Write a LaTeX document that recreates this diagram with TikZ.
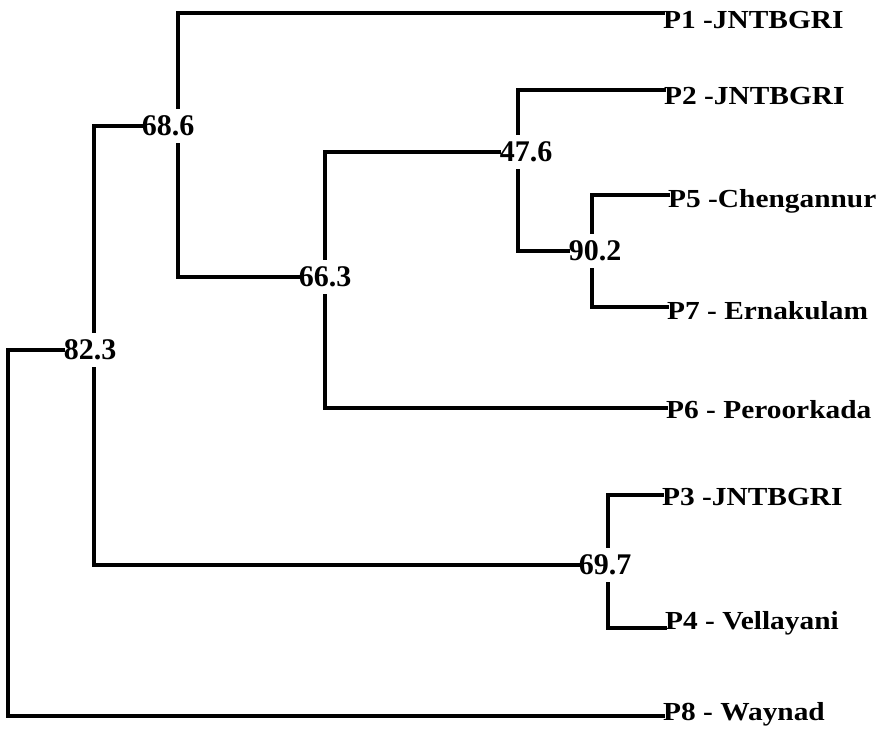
\documentclass[tikz,border=0pt]{standalone}
\usepackage{fontspec}
\setmainfont{Liberation Serif}
\tikzset{
  br/.style={line width=3.2pt, line join=miter, line cap=rect, black},
  num/.style={font=\fontsize{30}{30}\selectfont\bfseries, inner xsep=0pt, inner ysep=8pt},
  leaf/.style={anchor=base west, inner sep=0pt, font=\fontsize{26}{26}\selectfont\bfseries},
}
\newcommand{\lf}[1]{\scalebox{1.13}[1]{#1}}
\begin{document}
\begin{tikzpicture}[x=1pt,y=-1pt]
\useasboundingbox (0,0) rectangle (893,731);
% leaf line ends
\coordinate (e1) at (663,13);
\coordinate (e2) at (664,90);
\coordinate (e5) at (668,195);
\coordinate (e7) at (667,307);
\coordinate (e6) at (666,408);
\coordinate (e3) at (662,495);
\coordinate (e4) at (665,628);
\coordinate (e8) at (663,716);
% leaf labels
\node[leaf] (p1) at ([yshift=-15pt]e1) {\lf{P1 -JNTBGRI}};
\node[leaf] (p2) at ([yshift=-14pt]e2) {\lf{P2 -JNTBGRI}};
\node[leaf] (p5) at ([yshift=-12pt]e5) {\lf{P5 -Chengannur}};
\node[leaf] (p7) at ([yshift=-12pt]e7) {\lf{P7 - Ernakulam}};
\node[leaf] (p6) at ([yshift=-10pt]e6) {\lf{P6 - Peroorkada}};
\node[leaf] (p3) at ([yshift=-10pt]e3) {\lf{P3 -JNTBGRI}};
\node[leaf] (p4) at ([yshift=-1pt]e4) {\lf{P4 - Vellayani}};
\node[leaf] (p8) at ([yshift=-4pt]e8) {\lf{P8 - Waynad}};
% internal labels
\node[num] (n686) at (168,126) {68.6};
\node[num] (n663) at (325,277) {66.3};
\node[num] (n476) at (526,152) {47.6};
\node[num] (n902) at (595,251) {90.2};
\node[num] (n697) at (605,565) {69.7};
\node[num] (n823) at (90,350) {82.3};
% junction x positions
\coordinate (j686) at (178,126);
\coordinate (j663) at (325,277);
\coordinate (j476) at (518,152);
\coordinate (j902) at (592,251);
\coordinate (j697) at (608,565);
\coordinate (j823) at (94,350);
\coordinate (root) at (8,350);
% branches
\draw[br] (n686.north -| j686) |- (e1);
\draw[br] (n686.south -| j686) |- (n663.west);
\draw[br] (n663.north -| j663) |- (n476.west);
\draw[br] (n663.south -| j663) |- (e6);
\draw[br] (n476.north -| j476) |- (e2);
\draw[br] (n476.south -| j476) |- (n902.west);
\draw[br] (n902.north -| j902) |- (e5);
\draw[br] (n902.south -| j902) |- (e7);
\draw[br] (n697.north -| j697) |- (e3);
\draw[br] (n697.south -| j697) |- (e4);
\draw[br] (n823.north -| j823) |- (n686.west);
\draw[br] (n823.south -| j823) |- (n697.west);
\draw[br] (n823.west) -- (root) |- (e8);
\end{tikzpicture}
\end{document}
